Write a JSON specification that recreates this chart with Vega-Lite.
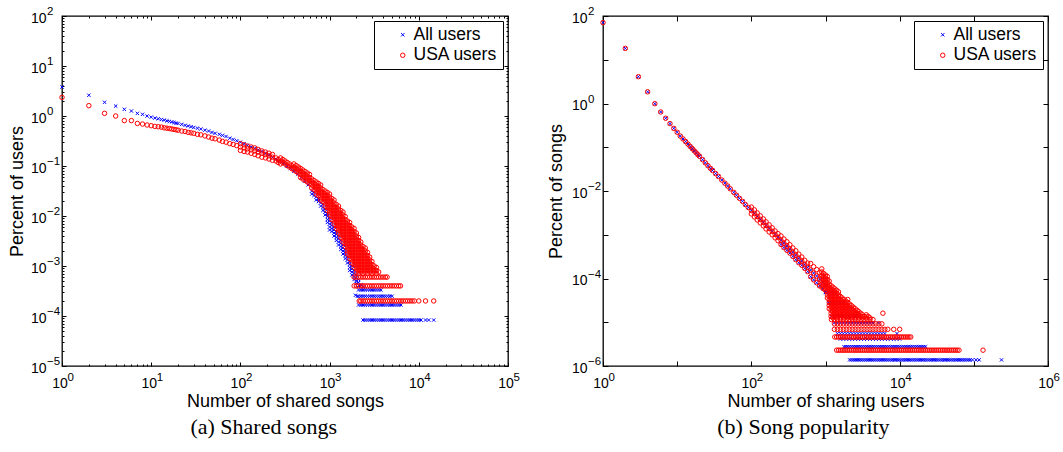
{
"$schema":"https://vega.github.io/schema/vega-lite/v6.json",
"background":"white",
"padding":{"left":7,"top":4,"right":0,"bottom":0},
"config":{
"view":{"stroke":"black","strokeWidth":1.3},
"font":"Liberation Sans",
"axis":{"grid":false,"domain":false,"labelFont":"Liberation Sans","labelFontSize":14,"labelColor":"#000","titleFont":"Liberation Sans","titleFontSize":18,"titleFontWeight":"normal","titleColor":"#000","tickColor":"#000","tickWidth":1,"labelOverlap":false,"labelFlush":false,"labelBound":false},
"legend":{"orient":"top-right","offset":5,"title":null,"strokeColor":"black","fillColor":"white","padding":5,"labelFont":"Liberation Sans","labelFontSize":17.5,"labelColor":"#000","symbolStrokeWidth":1,"rowPadding":1.5,"labelOffset":2,"symbolOffset":15,"cornerRadius":0}
},
"resolve":{"scale":{"color":"independent","shape":"independent","size":"independent"}},
"spacing":25,
"datasets":{
"L":[
{"s":"A","x":1,"y":3.8},{"s":"A","x":2,"y":2.6},{"s":"A","x":3,"y":1.88},{"s":"A","x":4,"y":1.58},{"s":"A","x":5,"y":1.36},{"s":"A","x":6,"y":1.26},{"s":"A","x":7,"y":1.13},{"s":"A","x":8,"y":1.08},{"s":"A","x":9,"y":1.0},{"s":"A","x":10,"y":0.95},{"s":"A","x":11,"y":0.91},{"s":"A","x":12,"y":0.88},{"s":"A","x":13,"y":0.85},{"s":"A","x":14,"y":0.83},{"s":"A","x":15,"y":0.8},{"s":"A","x":16,"y":0.78},{"s":"A","x":17,"y":0.76},{"s":"A","x":18,"y":0.74},{"s":"A","x":19,"y":0.72},{"s":"A","x":20,"y":0.71},{"s":"A","x":22,"y":0.68},{"s":"A","x":24,"y":0.65},{"s":"A","x":26,"y":0.63},{"s":"A","x":28,"y":0.61},
{"s":"A","x":30,"y":0.59},{"s":"A","x":33,"y":0.57},{"s":"A","x":36,"y":0.55},{"s":"A","x":40,"y":0.52},{"s":"A","x":44,"y":0.5},{"s":"A","x":48,"y":0.47},{"s":"A","x":52,"y":0.45},{"s":"A","x":58,"y":0.43},{"s":"A","x":63,"y":0.41},{"s":"A","x":69,"y":0.39},{"s":"A","x":76,"y":0.36},{"s":"A","x":83,"y":0.34},{"s":"A","x":91,"y":0.32},{"s":"A","x":100,"y":0.3},{"s":"A","x":110,"y":0.28},{"s":"A","x":120,"y":0.26},{"s":"A","x":132,"y":0.24},{"s":"A","x":145,"y":0.225},{"s":"A","x":158,"y":0.21},{"s":"A","x":174,"y":0.195},{"s":"A","x":191,"y":0.18},{"s":"A","x":209,"y":0.165},{"s":"A","x":229,"y":0.15},{"s":"A","x":251,"y":0.137},{"s":"A","x":275,"y":0.124},{"s":"A","x":302,"y":0.112},{"s":"A","x":331,"y":0.1},{"s":"A","x":363,"y":0.09},{"s":"A","x":398,"y":0.079},{"s":"A","x":437,"y":0.069},{"s":"A","x":479,"y":0.059},{"s":"A","x":525,"y":0.05},{"s":"A","x":575,"y":0.042},
{"s":"A","x":631,"y":0.0316},{"s":"A","x":631,"y":0.0275},{"s":"A","x":668,"y":0.0295},{"s":"A","x":668,"y":0.0257},{"s":"A","x":708,"y":0.024},{"s":"A","x":708,"y":0.0209},{"s":"A","x":750,"y":0.0224},{"s":"A","x":750,"y":0.0195},{"s":"A","x":794,"y":0.0182},{"s":"A","x":794,"y":0.0158},{"s":"A","x":841,"y":0.017},{"s":"A","x":841,"y":0.0148},{"s":"A","x":841,"y":0.0129},{"s":"A","x":891,"y":0.0138},{"s":"A","x":891,"y":0.012},{"s":"A","x":891,"y":0.0105},{"s":"A","x":944,"y":0.0112},{"s":"A","x":944,"y":0.00977},{"s":"A","x":944,"y":0.00851},{"s":"A","x":944,"y":0.00741},{"s":"A","x":1000,"y":0.00912},{"s":"A","x":1000,"y":0.00794},{"s":"A","x":1000,"y":0.00692},{"s":"A","x":1000,"y":0.00603},{"s":"A","x":1000,"y":0.00525},{"s":"A","x":1059,"y":0.00741},{"s":"A","x":1059,"y":0.00646},{"s":"A","x":1059,"y":0.00562},{"s":"A","x":1059,"y":0.0049},{"s":"A","x":1122,"y":0.00603},{"s":"A","x":1122,"y":0.00525},{"s":"A","x":1122,"y":0.00457},{"s":"A","x":1122,"y":0.00398},{"s":"A","x":1189,"y":0.0049},{"s":"A","x":1189,"y":0.00427},{"s":"A","x":1189,"y":0.00372},{"s":"A","x":1189,"y":0.00324},{"s":"A","x":1259,"y":0.00398},{"s":"A","x":1259,"y":0.00347},{"s":"A","x":1259,"y":0.00302},{"s":"A","x":1259,"y":0.00263},{"s":"A","x":1334,"y":0.00324},{"s":"A","x":1334,"y":0.00282},{"s":"A","x":1334,"y":0.00245},{"s":"A","x":1334,"y":0.00214},{"s":"A","x":1413,"y":0.00263},{"s":"A","x":1413,"y":0.00229},{"s":"A","x":1413,"y":0.002},{"s":"A","x":1413,"y":0.00174},{"s":"A","x":1496,"y":0.00214},{"s":"A","x":1496,"y":0.00186},{"s":"A","x":1496,"y":0.00162},{"s":"A","x":1496,"y":0.00141},{"s":"A","x":1585,"y":0.00151},{"s":"A","x":1585,"y":0.00132},{"s":"A","x":1585,"y":0.00115},{"s":"A","x":1679,"y":0.00123},{"s":"A","x":1679,"y":0.00107},{"s":"A","x":1679,"y":0.000933},{"s":"A","x":1679,"y":0.000813},{"s":"A","x":1778,"y":0.001},{"s":"A","x":1778,"y":0.000871},{"s":"A","x":1778,"y":0.000759},{"s":"A","x":1778,"y":0.000661},{"s":"A","x":1884,"y":0.000813},{"s":"A","x":1884,"y":0.000708},{"s":"A","x":1884,"y":0.000617},{"s":"A","x":1884,"y":0.000537},{"s":"A","x":1995,"y":0.000661},{"s":"A","x":1995,"y":0.000575},{"s":"A","x":1995,"y":0.000501},{"s":"A","x":2113,"y":0.000537},{"s":"A","x":2113,"y":0.000468},{"s":"A","x":2113,"y":0.000407},
{"s":"A","x":1950,"y":0.00026},{"s":"A","x":2000,"y":0.00045},{"s":"A","x":2150,"y":0.0004},{"s":"A","x":2250,"y":0.00042},{"s":"A","x":2400,"y":0.00038},
{"s":"A","x":2113,"y":0.000332},{"s":"A","x":2239,"y":0.000332},{"s":"A","x":2371,"y":0.000332},{"s":"A","x":2512,"y":0.000332},{"s":"A","x":2661,"y":0.000332},{"s":"A","x":2818,"y":0.000332},{"s":"A","x":2985,"y":0.000332},{"s":"A","x":3162,"y":0.000332},{"s":"A","x":3350,"y":0.000332},{"s":"A","x":3548,"y":0.000332},{"s":"A","x":3758,"y":0.000332},
{"s":"A","x":2050,"y":0.000249},{"s":"A","x":2113,"y":0.000249},{"s":"A","x":2239,"y":0.000249},{"s":"A","x":2371,"y":0.000249},{"s":"A","x":2512,"y":0.000249},{"s":"A","x":2661,"y":0.000249},{"s":"A","x":2818,"y":0.000249},{"s":"A","x":2985,"y":0.000249},{"s":"A","x":3162,"y":0.000249},{"s":"A","x":3350,"y":0.000249},{"s":"A","x":3548,"y":0.000249},{"s":"A","x":3758,"y":0.000249},{"s":"A","x":3981,"y":0.000249},{"s":"A","x":4217,"y":0.000249},{"s":"A","x":4467,"y":0.000249},{"s":"A","x":4732,"y":0.000249},{"s":"A","x":5012,"y":0.000249},
{"s":"A","x":2113,"y":0.000166},{"s":"A","x":2239,"y":0.000166},{"s":"A","x":2371,"y":0.000166},{"s":"A","x":2512,"y":0.000166},{"s":"A","x":2661,"y":0.000166},{"s":"A","x":2818,"y":0.000166},{"s":"A","x":2985,"y":0.000166},{"s":"A","x":3162,"y":0.000166},{"s":"A","x":3350,"y":0.000166},{"s":"A","x":3548,"y":0.000166},{"s":"A","x":3758,"y":0.000166},{"s":"A","x":3981,"y":0.000166},{"s":"A","x":4217,"y":0.000166},{"s":"A","x":4467,"y":0.000166},{"s":"A","x":4732,"y":0.000166},{"s":"A","x":5012,"y":0.000166},{"s":"A","x":5309,"y":0.000166},{"s":"A","x":5623,"y":0.000166},{"s":"A","x":5957,"y":0.000166},{"s":"A","x":6310,"y":0.000166},
{"s":"A","x":2371,"y":0.000083},{"s":"A","x":2512,"y":0.000083},{"s":"A","x":2661,"y":0.000083},{"s":"A","x":2818,"y":0.000083},{"s":"A","x":2985,"y":0.000083},{"s":"A","x":3162,"y":0.000083},{"s":"A","x":3350,"y":0.000083},{"s":"A","x":3548,"y":0.000083},{"s":"A","x":3758,"y":0.000083},{"s":"A","x":3981,"y":0.000083},{"s":"A","x":4217,"y":0.000083},{"s":"A","x":4467,"y":0.000083},{"s":"A","x":4732,"y":0.000083},{"s":"A","x":5012,"y":0.000083},{"s":"A","x":5309,"y":0.000083},{"s":"A","x":5623,"y":0.000083},{"s":"A","x":5957,"y":0.000083},{"s":"A","x":6310,"y":0.000083},{"s":"A","x":6683,"y":0.000083},{"s":"A","x":7079,"y":0.000083},{"s":"A","x":7499,"y":0.000083},{"s":"A","x":7943,"y":0.000083},{"s":"A","x":8414,"y":0.000083},{"s":"A","x":8913,"y":0.000083},{"s":"A","x":9441,"y":0.000083},{"s":"A","x":10000,"y":0.000083},{"s":"A","x":10593,"y":0.000083},{"s":"A","x":11900,"y":0.000083},{"s":"A","x":12900,"y":0.000083},{"s":"A","x":14700,"y":0.000083},
{"s":"U","x":1,"y":2.36},{"s":"U","x":2,"y":1.61},{"s":"U","x":3,"y":1.13},{"s":"U","x":4,"y":1.0},{"s":"U","x":5,"y":0.81},{"s":"U","x":6,"y":0.81},{"s":"U","x":7,"y":0.71},{"s":"U","x":8,"y":0.69},{"s":"U","x":9,"y":0.66},{"s":"U","x":10,"y":0.64},{"s":"U","x":11,"y":0.62},{"s":"U","x":12,"y":0.61},{"s":"U","x":13,"y":0.6},{"s":"U","x":14,"y":0.58},{"s":"U","x":15,"y":0.57},{"s":"U","x":16,"y":0.56},{"s":"U","x":17,"y":0.55},{"s":"U","x":18,"y":0.54},{"s":"U","x":19,"y":0.53},{"s":"U","x":20,"y":0.52},{"s":"U","x":22,"y":0.5},{"s":"U","x":24,"y":0.49},{"s":"U","x":26,"y":0.47},{"s":"U","x":28,"y":0.46},
{"s":"U","x":30,"y":0.45},{"s":"U","x":33,"y":0.43},{"s":"U","x":36,"y":0.42},{"s":"U","x":40,"y":0.4},{"s":"U","x":44,"y":0.38},{"s":"U","x":48,"y":0.36},{"s":"U","x":52,"y":0.35},{"s":"U","x":58,"y":0.33},{"s":"U","x":63,"y":0.31},{"s":"U","x":69,"y":0.3},{"s":"U","x":76,"y":0.28},{"s":"U","x":83,"y":0.27},{"s":"U","x":91,"y":0.255},{"s":"U","x":100,"y":0.24},{"s":"U","x":110,"y":0.23},{"s":"U","x":120,"y":0.22},{"s":"U","x":132,"y":0.21},{"s":"U","x":145,"y":0.2},{"s":"U","x":158,"y":0.19},{"s":"U","x":174,"y":0.18},{"s":"U","x":191,"y":0.17},{"s":"U","x":209,"y":0.16},{"s":"U","x":229,"y":0.15},
{"s":"U","x":100,"y":0.28},{"s":"U","x":110,"y":0.265},{"s":"U","x":120,"y":0.25},{"s":"U","x":132,"y":0.24},{"s":"U","x":145,"y":0.23},{"s":"U","x":158,"y":0.215},{"s":"U","x":174,"y":0.2},{"s":"U","x":191,"y":0.19},{"s":"U","x":209,"y":0.18},{"s":"U","x":229,"y":0.17},
{"s":"U","x":100,"y":0.205},{"s":"U","x":110,"y":0.195},{"s":"U","x":120,"y":0.19},{"s":"U","x":132,"y":0.18},{"s":"U","x":145,"y":0.17},{"s":"U","x":158,"y":0.16},{"s":"U","x":174,"y":0.15},{"s":"U","x":191,"y":0.145},{"s":"U","x":209,"y":0.138},{"s":"U","x":229,"y":0.13},
{"s":"U","x":251,"y":0.145},{"s":"U","x":251,"y":0.126},{"s":"U","x":266,"y":0.135},{"s":"U","x":266,"y":0.1175},{"s":"U","x":282,"y":0.145},{"s":"U","x":282,"y":0.126},{"s":"U","x":282,"y":0.11},{"s":"U","x":299,"y":0.135},{"s":"U","x":299,"y":0.1175},{"s":"U","x":316,"y":0.126},{"s":"U","x":316,"y":0.11},{"s":"U","x":335,"y":0.1175},{"s":"U","x":335,"y":0.102},{"s":"U","x":355,"y":0.11},{"s":"U","x":355,"y":0.0955},{"s":"U","x":376,"y":0.102},{"s":"U","x":376,"y":0.0891},{"s":"U","x":398,"y":0.11},{"s":"U","x":398,"y":0.0955},{"s":"U","x":398,"y":0.0832},{"s":"U","x":422,"y":0.102},{"s":"U","x":422,"y":0.0891},{"s":"U","x":422,"y":0.0776},{"s":"U","x":447,"y":0.0955},{"s":"U","x":447,"y":0.0832},{"s":"U","x":447,"y":0.0724},{"s":"U","x":473,"y":0.0891},{"s":"U","x":473,"y":0.0776},{"s":"U","x":473,"y":0.0676},{"s":"U","x":473,"y":0.0589},{"s":"U","x":501,"y":0.0832},{"s":"U","x":501,"y":0.0724},{"s":"U","x":501,"y":0.0631},{"s":"U","x":501,"y":0.055},{"s":"U","x":531,"y":0.0776},{"s":"U","x":531,"y":0.0676},{"s":"U","x":531,"y":0.0589},{"s":"U","x":531,"y":0.0513},{"s":"U","x":562,"y":0.0724},{"s":"U","x":562,"y":0.0631},{"s":"U","x":562,"y":0.055},{"s":"U","x":562,"y":0.0479},{"s":"U","x":596,"y":0.0676},{"s":"U","x":596,"y":0.0589},{"s":"U","x":596,"y":0.0513},{"s":"U","x":596,"y":0.0447},
{"s":"U","x":631,"y":0.055},{"s":"U","x":631,"y":0.0479},{"s":"U","x":631,"y":0.0417},{"s":"U","x":631,"y":0.0363},{"s":"U","x":668,"y":0.0513},{"s":"U","x":668,"y":0.0447},{"s":"U","x":668,"y":0.0389},{"s":"U","x":668,"y":0.0339},{"s":"U","x":708,"y":0.0479},{"s":"U","x":708,"y":0.0417},{"s":"U","x":708,"y":0.0363},{"s":"U","x":708,"y":0.0316},{"s":"U","x":708,"y":0.0275},{"s":"U","x":750,"y":0.0447},{"s":"U","x":750,"y":0.0389},{"s":"U","x":750,"y":0.0339},{"s":"U","x":750,"y":0.0295},{"s":"U","x":750,"y":0.0257},{"s":"U","x":794,"y":0.0417},{"s":"U","x":794,"y":0.0363},{"s":"U","x":794,"y":0.0316},{"s":"U","x":794,"y":0.0275},{"s":"U","x":794,"y":0.024},{"s":"U","x":794,"y":0.0209},{"s":"U","x":841,"y":0.0339},{"s":"U","x":841,"y":0.0295},{"s":"U","x":841,"y":0.0257},{"s":"U","x":841,"y":0.0224},{"s":"U","x":841,"y":0.0195},{"s":"U","x":891,"y":0.0316},{"s":"U","x":891,"y":0.0275},{"s":"U","x":891,"y":0.024},{"s":"U","x":891,"y":0.0209},{"s":"U","x":891,"y":0.0182},{"s":"U","x":891,"y":0.0158},{"s":"U","x":944,"y":0.0295},{"s":"U","x":944,"y":0.0257},{"s":"U","x":944,"y":0.0224},{"s":"U","x":944,"y":0.0195},{"s":"U","x":944,"y":0.017},{"s":"U","x":944,"y":0.0148},{"s":"U","x":944,"y":0.0129},
{"s":"U","x":1000,"y":0.0275},{"s":"U","x":1000,"y":0.024},{"s":"U","x":1000,"y":0.0209},{"s":"U","x":1000,"y":0.0182},{"s":"U","x":1000,"y":0.0158},{"s":"U","x":1000,"y":0.0138},{"s":"U","x":1000,"y":0.012},{"s":"U","x":1000,"y":0.0105},{"s":"U","x":1059,"y":0.0224},{"s":"U","x":1059,"y":0.0195},{"s":"U","x":1059,"y":0.017},{"s":"U","x":1059,"y":0.0148},{"s":"U","x":1059,"y":0.0129},{"s":"U","x":1059,"y":0.0112},{"s":"U","x":1059,"y":0.00977},{"s":"U","x":1059,"y":0.00851},{"s":"U","x":1122,"y":0.0209},{"s":"U","x":1122,"y":0.0182},{"s":"U","x":1122,"y":0.0158},{"s":"U","x":1122,"y":0.0138},{"s":"U","x":1122,"y":0.012},{"s":"U","x":1122,"y":0.0105},{"s":"U","x":1122,"y":0.00912},{"s":"U","x":1122,"y":0.00794},{"s":"U","x":1122,"y":0.00692},{"s":"U","x":1189,"y":0.017},{"s":"U","x":1189,"y":0.0148},{"s":"U","x":1189,"y":0.0129},{"s":"U","x":1189,"y":0.0112},{"s":"U","x":1189,"y":0.00977},{"s":"U","x":1189,"y":0.00851},{"s":"U","x":1189,"y":0.00741},{"s":"U","x":1189,"y":0.00646},{"s":"U","x":1189,"y":0.00562},
{"s":"U","x":1259,"y":0.0158},{"s":"U","x":1259,"y":0.0138},{"s":"U","x":1259,"y":0.012},{"s":"U","x":1259,"y":0.0105},{"s":"U","x":1259,"y":0.00912},{"s":"U","x":1259,"y":0.00794},{"s":"U","x":1259,"y":0.00692},{"s":"U","x":1259,"y":0.00603},{"s":"U","x":1259,"y":0.00525},{"s":"U","x":1259,"y":0.00457},{"s":"U","x":1334,"y":0.0129},{"s":"U","x":1334,"y":0.0112},{"s":"U","x":1334,"y":0.00977},{"s":"U","x":1334,"y":0.00851},{"s":"U","x":1334,"y":0.00741},{"s":"U","x":1334,"y":0.00646},{"s":"U","x":1334,"y":0.00562},{"s":"U","x":1334,"y":0.0049},{"s":"U","x":1334,"y":0.00427},{"s":"U","x":1334,"y":0.00372},
{"s":"U","x":1413,"y":0.012},{"s":"U","x":1413,"y":0.0105},{"s":"U","x":1413,"y":0.00912},{"s":"U","x":1413,"y":0.00794},{"s":"U","x":1413,"y":0.00692},{"s":"U","x":1413,"y":0.00603},{"s":"U","x":1413,"y":0.00525},{"s":"U","x":1413,"y":0.00457},{"s":"U","x":1413,"y":0.00398},{"s":"U","x":1413,"y":0.00347},{"s":"U","x":1413,"y":0.00302},{"s":"U","x":1496,"y":0.00977},{"s":"U","x":1496,"y":0.00851},{"s":"U","x":1496,"y":0.00741},{"s":"U","x":1496,"y":0.00646},{"s":"U","x":1496,"y":0.00562},{"s":"U","x":1496,"y":0.0049},{"s":"U","x":1496,"y":0.00427},{"s":"U","x":1496,"y":0.00372},{"s":"U","x":1496,"y":0.00324},{"s":"U","x":1496,"y":0.00282},{"s":"U","x":1496,"y":0.00245},
{"s":"U","x":1585,"y":0.00794},{"s":"U","x":1585,"y":0.00692},{"s":"U","x":1585,"y":0.00603},{"s":"U","x":1585,"y":0.00525},{"s":"U","x":1585,"y":0.00457},{"s":"U","x":1585,"y":0.00398},{"s":"U","x":1585,"y":0.00347},{"s":"U","x":1585,"y":0.00302},{"s":"U","x":1585,"y":0.00263},{"s":"U","x":1585,"y":0.00229},{"s":"U","x":1585,"y":0.002},{"s":"U","x":1585,"y":0.00174},
{"s":"U","x":1679,"y":0.00741},{"s":"U","x":1679,"y":0.00646},{"s":"U","x":1679,"y":0.00562},{"s":"U","x":1679,"y":0.0049},{"s":"U","x":1679,"y":0.00427},{"s":"U","x":1679,"y":0.00372},{"s":"U","x":1679,"y":0.00324},{"s":"U","x":1679,"y":0.00282},{"s":"U","x":1679,"y":0.00245},{"s":"U","x":1679,"y":0.00214},{"s":"U","x":1679,"y":0.00186},{"s":"U","x":1679,"y":0.00162},{"s":"U","x":1679,"y":0.00141},
{"s":"U","x":1778,"y":0.00603},{"s":"U","x":1778,"y":0.00525},{"s":"U","x":1778,"y":0.00457},{"s":"U","x":1778,"y":0.00398},{"s":"U","x":1778,"y":0.00347},{"s":"U","x":1778,"y":0.00302},{"s":"U","x":1778,"y":0.00263},{"s":"U","x":1778,"y":0.00229},{"s":"U","x":1778,"y":0.002},{"s":"U","x":1778,"y":0.00174},{"s":"U","x":1778,"y":0.00151},{"s":"U","x":1778,"y":0.00132},{"s":"U","x":1778,"y":0.00115},
{"s":"U","x":1884,"y":0.00562},{"s":"U","x":1884,"y":0.0049},{"s":"U","x":1884,"y":0.00427},{"s":"U","x":1884,"y":0.00372},{"s":"U","x":1884,"y":0.00324},{"s":"U","x":1884,"y":0.00282},{"s":"U","x":1884,"y":0.00245},{"s":"U","x":1884,"y":0.00214},{"s":"U","x":1884,"y":0.00186},{"s":"U","x":1884,"y":0.00162},{"s":"U","x":1884,"y":0.00141},{"s":"U","x":1884,"y":0.00123},{"s":"U","x":1884,"y":0.00107},{"s":"U","x":1884,"y":0.000933},
{"s":"U","x":1995,"y":0.00457},{"s":"U","x":1995,"y":0.00398},{"s":"U","x":1995,"y":0.00347},{"s":"U","x":1995,"y":0.00302},{"s":"U","x":1995,"y":0.00263},{"s":"U","x":1995,"y":0.00229},{"s":"U","x":1995,"y":0.002},{"s":"U","x":1995,"y":0.00174},{"s":"U","x":1995,"y":0.00151},{"s":"U","x":1995,"y":0.00132},{"s":"U","x":1995,"y":0.00115},{"s":"U","x":1995,"y":0.001},{"s":"U","x":1995,"y":0.000871},{"s":"U","x":1995,"y":0.000759},
{"s":"U","x":2113,"y":0.00372},{"s":"U","x":2113,"y":0.00324},{"s":"U","x":2113,"y":0.00282},{"s":"U","x":2113,"y":0.00245},{"s":"U","x":2113,"y":0.00214},{"s":"U","x":2113,"y":0.00186},{"s":"U","x":2113,"y":0.00162},{"s":"U","x":2113,"y":0.00141},{"s":"U","x":2113,"y":0.00123},{"s":"U","x":2113,"y":0.00107},{"s":"U","x":2113,"y":0.000933},{"s":"U","x":2113,"y":0.000813},{"s":"U","x":2113,"y":0.000708},
{"s":"U","x":2239,"y":0.00302},{"s":"U","x":2239,"y":0.00263},{"s":"U","x":2239,"y":0.00229},{"s":"U","x":2239,"y":0.002},{"s":"U","x":2239,"y":0.00174},{"s":"U","x":2239,"y":0.00151},{"s":"U","x":2239,"y":0.00132},{"s":"U","x":2239,"y":0.00115},{"s":"U","x":2239,"y":0.001},{"s":"U","x":2239,"y":0.000871},{"s":"U","x":2239,"y":0.000759},
{"s":"U","x":2371,"y":0.00245},{"s":"U","x":2371,"y":0.00214},{"s":"U","x":2371,"y":0.00186},{"s":"U","x":2371,"y":0.00162},{"s":"U","x":2371,"y":0.00141},{"s":"U","x":2371,"y":0.00123},{"s":"U","x":2371,"y":0.00107},{"s":"U","x":2371,"y":0.000933},{"s":"U","x":2371,"y":0.000813},{"s":"U","x":2371,"y":0.000708},
{"s":"U","x":2512,"y":0.00229},{"s":"U","x":2512,"y":0.002},{"s":"U","x":2512,"y":0.00174},{"s":"U","x":2512,"y":0.00151},{"s":"U","x":2512,"y":0.00132},{"s":"U","x":2512,"y":0.00115},{"s":"U","x":2512,"y":0.001},{"s":"U","x":2512,"y":0.000871},{"s":"U","x":2512,"y":0.000759},
{"s":"U","x":2661,"y":0.00186},{"s":"U","x":2661,"y":0.00162},{"s":"U","x":2661,"y":0.00141},{"s":"U","x":2661,"y":0.00123},{"s":"U","x":2661,"y":0.00107},{"s":"U","x":2661,"y":0.000933},{"s":"U","x":2661,"y":0.000813},{"s":"U","x":2661,"y":0.000708},
{"s":"U","x":2818,"y":0.00151},{"s":"U","x":2818,"y":0.00132},{"s":"U","x":2818,"y":0.00115},{"s":"U","x":2818,"y":0.001},{"s":"U","x":2818,"y":0.000871},{"s":"U","x":2818,"y":0.000759},
{"s":"U","x":2985,"y":0.00123},{"s":"U","x":2985,"y":0.00107},{"s":"U","x":2985,"y":0.000933},{"s":"U","x":2985,"y":0.000813},{"s":"U","x":2985,"y":0.000708},
{"s":"U","x":3162,"y":0.001},{"s":"U","x":3162,"y":0.000871},{"s":"U","x":3162,"y":0.000759},{"s":"U","x":3350,"y":0.000933},{"s":"U","x":3350,"y":0.000813},{"s":"U","x":3350,"y":0.000708},{"s":"U","x":3548,"y":0.000759},
{"s":"U","x":1884,"y":0.0006},{"s":"U","x":1995,"y":0.0006},{"s":"U","x":2113,"y":0.0006},{"s":"U","x":2239,"y":0.0006},{"s":"U","x":2371,"y":0.0006},{"s":"U","x":2512,"y":0.0006},{"s":"U","x":2661,"y":0.0006},{"s":"U","x":2818,"y":0.0006},{"s":"U","x":2985,"y":0.0006},{"s":"U","x":3162,"y":0.0006},{"s":"U","x":3350,"y":0.0006},{"s":"U","x":3548,"y":0.0006},{"s":"U","x":3758,"y":0.0006},{"s":"U","x":3981,"y":0.0006},{"s":"U","x":4217,"y":0.0006},{"s":"U","x":4410,"y":0.0006},
{"s":"U","x":1884,"y":0.0004},{"s":"U","x":1995,"y":0.0004},{"s":"U","x":2113,"y":0.0004},{"s":"U","x":2239,"y":0.0004},{"s":"U","x":2371,"y":0.0004},{"s":"U","x":2512,"y":0.0004},{"s":"U","x":2661,"y":0.0004},{"s":"U","x":2818,"y":0.0004},{"s":"U","x":2985,"y":0.0004},{"s":"U","x":3162,"y":0.0004},{"s":"U","x":3350,"y":0.0004},{"s":"U","x":3548,"y":0.0004},{"s":"U","x":3758,"y":0.0004},{"s":"U","x":3981,"y":0.0004},{"s":"U","x":4217,"y":0.0004},{"s":"U","x":4467,"y":0.0004},{"s":"U","x":4732,"y":0.0004},{"s":"U","x":5012,"y":0.0004},{"s":"U","x":5309,"y":0.0004},{"s":"U","x":5623,"y":0.0004},{"s":"U","x":5957,"y":0.0004},{"s":"U","x":6240,"y":0.0004},
{"s":"U","x":2150,"y":0.0002},{"s":"U","x":2239,"y":0.0002},{"s":"U","x":2371,"y":0.0002},{"s":"U","x":2512,"y":0.0002},{"s":"U","x":2661,"y":0.0002},{"s":"U","x":2818,"y":0.0002},{"s":"U","x":2985,"y":0.0002},{"s":"U","x":3162,"y":0.0002},{"s":"U","x":3350,"y":0.0002},{"s":"U","x":3548,"y":0.0002},{"s":"U","x":3758,"y":0.0002},{"s":"U","x":3981,"y":0.0002},{"s":"U","x":4217,"y":0.0002},{"s":"U","x":4467,"y":0.0002},{"s":"U","x":4732,"y":0.0002},{"s":"U","x":5012,"y":0.0002},{"s":"U","x":5309,"y":0.0002},{"s":"U","x":5623,"y":0.0002},{"s":"U","x":5957,"y":0.0002},{"s":"U","x":6310,"y":0.0002},{"s":"U","x":6683,"y":0.0002},{"s":"U","x":7079,"y":0.0002},{"s":"U","x":7499,"y":0.0002},{"s":"U","x":7943,"y":0.0002},{"s":"U","x":8414,"y":0.0002},{"s":"U","x":8913,"y":0.0002},{"s":"U","x":10000,"y":0.0002},{"s":"U","x":11900,"y":0.0002},{"s":"U","x":14700,"y":0.0002}
],
"R":[
{"s":"A","x":1,"y":70.6},{"s":"A","x":2,"y":18.2},{"s":"A","x":3,"y":4.1},{"s":"A","x":4,"y":1.85},{"s":"A","x":5,"y":0.99},{"s":"A","x":6,"y":0.64},{"s":"A","x":7,"y":0.46},{"s":"A","x":8,"y":0.347},{"s":"A","x":9,"y":0.27},{"s":"A","x":10,"y":0.22},{"s":"A","x":11,"y":0.18},{"s":"A","x":12,"y":0.155},{"s":"A","x":13,"y":0.135},{"s":"A","x":14,"y":0.118},{"s":"A","x":15,"y":0.104},{"s":"A","x":16,"y":0.093},{"s":"A","x":17,"y":0.083},{"s":"A","x":18,"y":0.075},{"s":"A","x":19,"y":0.068},{"s":"A","x":20,"y":0.062},{"s":"A","x":22,"y":0.052},{"s":"A","x":24,"y":0.044},{"s":"A","x":26,"y":0.038},{"s":"A","x":28,"y":0.033},
{"s":"A","x":30,"y":0.0295},{"s":"A","x":33,"y":0.025},{"s":"A","x":36,"y":0.0215},{"s":"A","x":40,"y":0.0178},{"s":"A","x":44,"y":0.0151},{"s":"A","x":48,"y":0.013},{"s":"A","x":52,"y":0.0112},{"s":"A","x":58,"y":0.0093},{"s":"A","x":63,"y":0.008},{"s":"A","x":69,"y":0.0068},{"s":"A","x":76,"y":0.0058},{"s":"A","x":83,"y":0.0049},{"s":"A","x":91,"y":0.0042},{"s":"A","x":100,"y":0.0036},{"s":"A","x":110,"y":0.00308},{"s":"A","x":120,"y":0.00263},{"s":"A","x":132,"y":0.00225},{"s":"A","x":145,"y":0.00192},{"s":"A","x":158,"y":0.00164},{"s":"A","x":174,"y":0.0014},{"s":"A","x":191,"y":0.0012},{"s":"A","x":209,"y":0.00102},{"s":"A","x":229,"y":0.00088},{"s":"A","x":251,"y":0.00075},{"s":"A","x":275,"y":0.00064},{"s":"A","x":302,"y":0.00055},{"s":"A","x":331,"y":0.00047},{"s":"A","x":363,"y":0.0004},{"s":"A","x":398,"y":0.00034},{"s":"A","x":437,"y":0.00029},{"s":"A","x":479,"y":0.00025},{"s":"A","x":525,"y":0.00021},{"s":"A","x":575,"y":0.00018},{"s":"A","x":631,"y":0.000156},{"s":"A","x":692,"y":0.000133},{"s":"A","x":759,"y":0.000114},{"s":"A","x":832,"y":0.000097},{"s":"A","x":912,"y":0.000083},{"s":"A","x":1000,"y":0.000071},
{"s":"A","x":251,"y":0.0006},{"s":"A","x":275,"y":0.00051},{"s":"A","x":302,"y":0.00044},{"s":"A","x":331,"y":0.00038},{"s":"A","x":363,"y":0.00032},{"s":"A","x":398,"y":0.00027},{"s":"A","x":437,"y":0.00023},{"s":"A","x":479,"y":0.0002},{"s":"A","x":525,"y":0.00017},{"s":"A","x":575,"y":0.000144},{"s":"A","x":631,"y":0.00011},{"s":"A","x":692,"y":0.000093},{"s":"A","x":759,"y":0.00008},{"s":"A","x":832,"y":0.000068},{"s":"A","x":912,"y":0.000058},{"s":"A","x":1000,"y":0.00005},
{"s":"A","x":1000,"y":4.8e-5},{"s":"A","x":1096,"y":4.8e-5},{"s":"A","x":1202,"y":4.8e-5},{"s":"A","x":1318,"y":4.8e-5},
{"s":"A","x":1096,"y":2.76e-5},{"s":"A","x":1202,"y":2.76e-5},{"s":"A","x":1318,"y":2.76e-5},{"s":"A","x":1445,"y":2.76e-5},{"s":"A","x":1585,"y":2.76e-5},{"s":"A","x":1738,"y":2.76e-5},
{"s":"A","x":1202,"y":1.38e-5},{"s":"A","x":1318,"y":1.38e-5},{"s":"A","x":1445,"y":1.38e-5},{"s":"A","x":1585,"y":1.38e-5},{"s":"A","x":1738,"y":1.38e-5},{"s":"A","x":1905,"y":1.38e-5},{"s":"A","x":2089,"y":1.38e-5},{"s":"A","x":2291,"y":1.38e-5},{"s":"A","x":2512,"y":1.38e-5},{"s":"A","x":2754,"y":1.38e-5},
{"s":"A","x":1318,"y":9.66e-6},{"s":"A","x":1445,"y":9.66e-6},{"s":"A","x":1585,"y":9.66e-6},{"s":"A","x":1738,"y":9.66e-6},{"s":"A","x":1905,"y":9.66e-6},{"s":"A","x":2089,"y":9.66e-6},{"s":"A","x":2291,"y":9.66e-6},{"s":"A","x":2512,"y":9.66e-6},{"s":"A","x":2754,"y":9.66e-6},{"s":"A","x":3020,"y":9.66e-6},{"s":"A","x":3311,"y":9.66e-6},{"s":"A","x":3631,"y":9.66e-6},{"s":"A","x":3981,"y":9.66e-6},{"s":"A","x":4365,"y":9.66e-6},{"s":"A","x":5200,"y":9.66e-6},
{"s":"A","x":1445,"y":5.52e-6},{"s":"A","x":1585,"y":5.52e-6},{"s":"A","x":1738,"y":5.52e-6},{"s":"A","x":1905,"y":5.52e-6},{"s":"A","x":2089,"y":5.52e-6},{"s":"A","x":2291,"y":5.52e-6},{"s":"A","x":2512,"y":5.52e-6},{"s":"A","x":2754,"y":5.52e-6},{"s":"A","x":3020,"y":5.52e-6},{"s":"A","x":3311,"y":5.52e-6},{"s":"A","x":3631,"y":5.52e-6},{"s":"A","x":3981,"y":5.52e-6},{"s":"A","x":4365,"y":5.52e-6},{"s":"A","x":4786,"y":5.52e-6},{"s":"A","x":5248,"y":5.52e-6},{"s":"A","x":5754,"y":5.52e-6},{"s":"A","x":6310,"y":5.52e-6},{"s":"A","x":9200,"y":5.52e-6},
{"s":"A","x":1585,"y":4.14e-6},{"s":"A","x":1738,"y":4.14e-6},{"s":"A","x":1905,"y":4.14e-6},{"s":"A","x":2089,"y":4.14e-6},{"s":"A","x":2291,"y":4.14e-6},{"s":"A","x":2512,"y":4.14e-6},{"s":"A","x":2754,"y":4.14e-6},{"s":"A","x":3020,"y":4.14e-6},{"s":"A","x":3311,"y":4.14e-6},{"s":"A","x":3631,"y":4.14e-6},{"s":"A","x":3981,"y":4.14e-6},{"s":"A","x":4365,"y":4.14e-6},{"s":"A","x":4786,"y":4.14e-6},{"s":"A","x":5248,"y":4.14e-6},{"s":"A","x":5754,"y":4.14e-6},{"s":"A","x":6310,"y":4.14e-6},{"s":"A","x":6918,"y":4.14e-6},{"s":"A","x":7586,"y":4.14e-6},{"s":"A","x":8318,"y":4.14e-6},{"s":"A","x":9120,"y":4.14e-6},{"s":"A","x":10000,"y":4.14e-6},
{"s":"A","x":1778,"y":2.76e-6},{"s":"A","x":1884,"y":2.76e-6},{"s":"A","x":1995,"y":2.76e-6},{"s":"A","x":2113,"y":2.76e-6},{"s":"A","x":2239,"y":2.76e-6},{"s":"A","x":2371,"y":2.76e-6},{"s":"A","x":2512,"y":2.76e-6},{"s":"A","x":2661,"y":2.76e-6},{"s":"A","x":2818,"y":2.76e-6},{"s":"A","x":2985,"y":2.76e-6},{"s":"A","x":3162,"y":2.76e-6},{"s":"A","x":3350,"y":2.76e-6},{"s":"A","x":3548,"y":2.76e-6},{"s":"A","x":3758,"y":2.76e-6},{"s":"A","x":3981,"y":2.76e-6},{"s":"A","x":4217,"y":2.76e-6},{"s":"A","x":4467,"y":2.76e-6},{"s":"A","x":4732,"y":2.76e-6},{"s":"A","x":5012,"y":2.76e-6},{"s":"A","x":5309,"y":2.76e-6},{"s":"A","x":5623,"y":2.76e-6},{"s":"A","x":5957,"y":2.76e-6},{"s":"A","x":6310,"y":2.76e-6},{"s":"A","x":6683,"y":2.76e-6},{"s":"A","x":7079,"y":2.76e-6},{"s":"A","x":7499,"y":2.76e-6},{"s":"A","x":7943,"y":2.76e-6},{"s":"A","x":8414,"y":2.76e-6},{"s":"A","x":8913,"y":2.76e-6},{"s":"A","x":9441,"y":2.76e-6},{"s":"A","x":10000,"y":2.76e-6},{"s":"A","x":10593,"y":2.76e-6},{"s":"A","x":11220,"y":2.76e-6},{"s":"A","x":11885,"y":2.76e-6},{"s":"A","x":12589,"y":2.76e-6},{"s":"A","x":13335,"y":2.76e-6},{"s":"A","x":14125,"y":2.76e-6},{"s":"A","x":14962,"y":2.76e-6},{"s":"A","x":15849,"y":2.76e-6},{"s":"A","x":16788,"y":2.76e-6},{"s":"A","x":17783,"y":2.76e-6},{"s":"A","x":18836,"y":2.76e-6},{"s":"A","x":19953,"y":2.76e-6},{"s":"A","x":21135,"y":2.76e-6},{"s":"A","x":22387,"y":2.76e-6},
{"s":"A","x":2113,"y":1.38e-6},{"s":"A","x":2239,"y":1.38e-6},{"s":"A","x":2371,"y":1.38e-6},{"s":"A","x":2512,"y":1.38e-6},{"s":"A","x":2661,"y":1.38e-6},{"s":"A","x":2818,"y":1.38e-6},{"s":"A","x":2985,"y":1.38e-6},{"s":"A","x":3162,"y":1.38e-6},{"s":"A","x":3350,"y":1.38e-6},{"s":"A","x":3548,"y":1.38e-6},{"s":"A","x":3758,"y":1.38e-6},{"s":"A","x":3981,"y":1.38e-6},{"s":"A","x":4217,"y":1.38e-6},{"s":"A","x":4467,"y":1.38e-6},{"s":"A","x":4732,"y":1.38e-6},{"s":"A","x":5012,"y":1.38e-6},{"s":"A","x":5309,"y":1.38e-6},{"s":"A","x":5623,"y":1.38e-6},{"s":"A","x":5957,"y":1.38e-6},{"s":"A","x":6310,"y":1.38e-6},{"s":"A","x":6683,"y":1.38e-6},{"s":"A","x":7079,"y":1.38e-6},{"s":"A","x":7499,"y":1.38e-6},{"s":"A","x":7943,"y":1.38e-6},{"s":"A","x":8414,"y":1.38e-6},{"s":"A","x":8913,"y":1.38e-6},{"s":"A","x":9441,"y":1.38e-6},{"s":"A","x":10000,"y":1.38e-6},{"s":"A","x":10593,"y":1.38e-6},{"s":"A","x":11220,"y":1.38e-6},{"s":"A","x":11885,"y":1.38e-6},{"s":"A","x":12589,"y":1.38e-6},{"s":"A","x":13335,"y":1.38e-6},{"s":"A","x":14125,"y":1.38e-6},{"s":"A","x":14962,"y":1.38e-6},{"s":"A","x":15849,"y":1.38e-6},{"s":"A","x":16788,"y":1.38e-6},{"s":"A","x":17783,"y":1.38e-6},{"s":"A","x":18836,"y":1.38e-6},{"s":"A","x":19953,"y":1.38e-6},{"s":"A","x":21135,"y":1.38e-6},{"s":"A","x":22387,"y":1.38e-6},{"s":"A","x":23714,"y":1.38e-6},{"s":"A","x":25119,"y":1.38e-6},{"s":"A","x":26607,"y":1.38e-6},{"s":"A","x":28184,"y":1.38e-6},{"s":"A","x":29854,"y":1.38e-6},{"s":"A","x":31623,"y":1.38e-6},{"s":"A","x":33497,"y":1.38e-6},{"s":"A","x":35481,"y":1.38e-6},{"s":"A","x":37584,"y":1.38e-6},{"s":"A","x":39811,"y":1.38e-6},{"s":"A","x":42170,"y":1.38e-6},{"s":"A","x":44668,"y":1.38e-6},{"s":"A","x":47315,"y":1.38e-6},{"s":"A","x":50119,"y":1.38e-6},{"s":"A","x":53088,"y":1.38e-6},{"s":"A","x":56234,"y":1.38e-6},{"s":"A","x":59566,"y":1.38e-6},{"s":"A","x":63096,"y":1.38e-6},{"s":"A","x":66834,"y":1.38e-6},{"s":"A","x":70795,"y":1.38e-6},{"s":"A","x":74989,"y":1.38e-6},{"s":"A","x":79433,"y":1.38e-6},{"s":"A","x":84140,"y":1.38e-6},{"s":"A","x":89125,"y":1.38e-6},{"s":"A","x":96000,"y":1.38e-6},{"s":"A","x":107000,"y":1.38e-6},{"s":"A","x":118000,"y":1.38e-6},{"s":"A","x":236000,"y":1.38e-6},
{"s":"U","x":1,"y":70.6},{"s":"U","x":2,"y":18.2},{"s":"U","x":3,"y":4.1},{"s":"U","x":4,"y":1.85},{"s":"U","x":5,"y":0.99},{"s":"U","x":6,"y":0.64},{"s":"U","x":7,"y":0.46},{"s":"U","x":8,"y":0.347},{"s":"U","x":9,"y":0.27},{"s":"U","x":10,"y":0.22},{"s":"U","x":11,"y":0.18},{"s":"U","x":12,"y":0.155},{"s":"U","x":13,"y":0.135},{"s":"U","x":14,"y":0.118},{"s":"U","x":15,"y":0.104},{"s":"U","x":16,"y":0.093},{"s":"U","x":17,"y":0.083},{"s":"U","x":18,"y":0.075},{"s":"U","x":19,"y":0.068},{"s":"U","x":20,"y":0.062},{"s":"U","x":22,"y":0.052},{"s":"U","x":24,"y":0.044},{"s":"U","x":26,"y":0.038},{"s":"U","x":28,"y":0.033},
{"s":"U","x":30,"y":0.0295},{"s":"U","x":33,"y":0.025},{"s":"U","x":36,"y":0.0215},{"s":"U","x":40,"y":0.0178},{"s":"U","x":44,"y":0.0151},{"s":"U","x":48,"y":0.013},{"s":"U","x":52,"y":0.0112},{"s":"U","x":58,"y":0.0093},{"s":"U","x":63,"y":0.008},{"s":"U","x":69,"y":0.0068},{"s":"U","x":76,"y":0.0058},{"s":"U","x":83,"y":0.0049},{"s":"U","x":91,"y":0.0042},{"s":"U","x":100,"y":0.0036},{"s":"U","x":110,"y":0.00308},{"s":"U","x":120,"y":0.00263},{"s":"U","x":132,"y":0.00225},{"s":"U","x":145,"y":0.00192},{"s":"U","x":158,"y":0.00164},{"s":"U","x":174,"y":0.0014},{"s":"U","x":191,"y":0.0012},{"s":"U","x":209,"y":0.00102},{"s":"U","x":229,"y":0.00088},{"s":"U","x":251,"y":0.00075},{"s":"U","x":275,"y":0.00064},{"s":"U","x":302,"y":0.00055},{"s":"U","x":331,"y":0.00047},{"s":"U","x":363,"y":0.0004},{"s":"U","x":398,"y":0.00034},{"s":"U","x":437,"y":0.00029},{"s":"U","x":479,"y":0.00025},{"s":"U","x":525,"y":0.00021},{"s":"U","x":575,"y":0.00018},{"s":"U","x":631,"y":0.000156},{"s":"U","x":692,"y":0.000133},{"s":"U","x":759,"y":0.000114},{"s":"U","x":832,"y":0.000097},
{"s":"U","x":100,"y":0.0043},{"s":"U","x":110,"y":0.0037},{"s":"U","x":120,"y":0.00316},{"s":"U","x":132,"y":0.0027},{"s":"U","x":145,"y":0.0023},{"s":"U","x":158,"y":0.00197},{"s":"U","x":174,"y":0.00168},{"s":"U","x":191,"y":0.00144},{"s":"U","x":209,"y":0.00122},{"s":"U","x":229,"y":0.00106},
{"s":"U","x":100,"y":0.003},{"s":"U","x":110,"y":0.00256},{"s":"U","x":120,"y":0.00218},{"s":"U","x":132,"y":0.00187},{"s":"U","x":145,"y":0.0016},{"s":"U","x":158,"y":0.00136},{"s":"U","x":174,"y":0.00116},{"s":"U","x":191,"y":0.001},{"s":"U","x":209,"y":0.00085},{"s":"U","x":229,"y":0.00073},
{"s":"U","x":251,"y":0.00094},{"s":"U","x":275,"y":0.0008},{"s":"U","x":302,"y":0.00069},{"s":"U","x":331,"y":0.00059},{"s":"U","x":363,"y":0.0005},{"s":"U","x":398,"y":0.00043},{"s":"U","x":437,"y":0.00036},{"s":"U","x":479,"y":0.00031},{"s":"U","x":525,"y":0.00026},{"s":"U","x":575,"y":0.000225},{"s":"U","x":631,"y":0.00022},{"s":"U","x":692,"y":0.000186},{"s":"U","x":759,"y":0.00016},{"s":"U","x":832,"y":0.000136},
{"s":"U","x":251,"y":0.0006},{"s":"U","x":275,"y":0.00051},{"s":"U","x":302,"y":0.00044},{"s":"U","x":331,"y":0.00038},{"s":"U","x":363,"y":0.00032},{"s":"U","x":398,"y":0.00027},{"s":"U","x":437,"y":0.00023},{"s":"U","x":479,"y":0.0002},{"s":"U","x":525,"y":0.00017},{"s":"U","x":575,"y":0.000144},{"s":"U","x":631,"y":0.00011},{"s":"U","x":692,"y":0.000093},{"s":"U","x":759,"y":0.00008},{"s":"U","x":832,"y":0.000068},
{"s":"U","x":891,"y":1.66e-4},{"s":"U","x":891,"y":1.41e-4},{"s":"U","x":891,"y":1.2e-4},{"s":"U","x":891,"y":1.02e-4},{"s":"U","x":891,"y":8.71e-5},{"s":"U","x":891,"y":7.41e-5},{"s":"U","x":891,"y":6.31e-5},
{"s":"U","x":944,"y":1.3e-4},{"s":"U","x":944,"y":1.11e-4},{"s":"U","x":944,"y":9.44e-5},{"s":"U","x":944,"y":8.04e-5},{"s":"U","x":944,"y":6.84e-5},{"s":"U","x":944,"y":5.82e-5},
{"s":"U","x":1000,"y":1.2e-4},{"s":"U","x":1000,"y":1.02e-4},{"s":"U","x":1000,"y":8.71e-5},{"s":"U","x":1000,"y":7.41e-5},{"s":"U","x":1000,"y":6.31e-5},{"s":"U","x":1000,"y":5.37e-5},
{"s":"U","x":1059,"y":1.11e-4},{"s":"U","x":1059,"y":9.44e-5},{"s":"U","x":1059,"y":8.04e-5},{"s":"U","x":1059,"y":6.84e-5},{"s":"U","x":1059,"y":5.82e-5},{"s":"U","x":1059,"y":4.95e-5},{"s":"U","x":1059,"y":4.22e-5},{"s":"U","x":1059,"y":3.59e-5},
{"s":"U","x":1122,"y":8.71e-5},{"s":"U","x":1122,"y":7.41e-5},{"s":"U","x":1122,"y":6.31e-5},{"s":"U","x":1122,"y":5.37e-5},{"s":"U","x":1122,"y":4.57e-5},{"s":"U","x":1122,"y":3.89e-5},{"s":"U","x":1122,"y":3.31e-5},{"s":"U","x":1122,"y":2.82e-5},{"s":"U","x":1122,"y":2.4e-5},{"s":"U","x":1122,"y":2.04e-5},
{"s":"U","x":1189,"y":6.84e-5},{"s":"U","x":1189,"y":5.82e-5},{"s":"U","x":1189,"y":4.95e-5},{"s":"U","x":1189,"y":4.22e-5},{"s":"U","x":1189,"y":3.59e-5},{"s":"U","x":1189,"y":3.05e-5},{"s":"U","x":1189,"y":2.6e-5},{"s":"U","x":1189,"y":2.21e-5},{"s":"U","x":1189,"y":1.88e-5},{"s":"U","x":1189,"y":1.6e-5},{"s":"U","x":1189,"y":1.36e-5},
{"s":"U","x":1259,"y":6.31e-5},{"s":"U","x":1259,"y":5.37e-5},{"s":"U","x":1259,"y":4.57e-5},{"s":"U","x":1259,"y":3.89e-5},{"s":"U","x":1259,"y":3.31e-5},{"s":"U","x":1259,"y":2.82e-5},{"s":"U","x":1259,"y":2.4e-5},{"s":"U","x":1259,"y":2.04e-5},{"s":"U","x":1259,"y":1.74e-5},{"s":"U","x":1259,"y":1.48e-5},{"s":"U","x":1259,"y":1.26e-5},
{"s":"U","x":1334,"y":5.82e-5},{"s":"U","x":1334,"y":4.95e-5},{"s":"U","x":1334,"y":4.22e-5},{"s":"U","x":1334,"y":3.59e-5},{"s":"U","x":1334,"y":3.05e-5},{"s":"U","x":1334,"y":2.6e-5},{"s":"U","x":1334,"y":2.21e-5},{"s":"U","x":1334,"y":1.88e-5},{"s":"U","x":1334,"y":1.6e-5},{"s":"U","x":1334,"y":1.36e-5},
{"s":"U","x":1413,"y":5.37e-5},{"s":"U","x":1413,"y":4.57e-5},{"s":"U","x":1413,"y":3.89e-5},{"s":"U","x":1413,"y":3.31e-5},{"s":"U","x":1413,"y":2.82e-5},{"s":"U","x":1413,"y":2.4e-5},{"s":"U","x":1413,"y":2.04e-5},{"s":"U","x":1413,"y":1.74e-5},{"s":"U","x":1413,"y":1.48e-5},{"s":"U","x":1413,"y":1.26e-5},
{"s":"U","x":1496,"y":4.95e-5},{"s":"U","x":1496,"y":4.22e-5},{"s":"U","x":1496,"y":3.59e-5},{"s":"U","x":1496,"y":3.05e-5},{"s":"U","x":1496,"y":2.6e-5},{"s":"U","x":1496,"y":2.21e-5},{"s":"U","x":1496,"y":1.88e-5},{"s":"U","x":1496,"y":1.6e-5},{"s":"U","x":1496,"y":1.36e-5},
{"s":"U","x":1585,"y":3.89e-5},{"s":"U","x":1585,"y":3.31e-5},{"s":"U","x":1585,"y":2.82e-5},{"s":"U","x":1585,"y":2.4e-5},{"s":"U","x":1585,"y":2.04e-5},{"s":"U","x":1585,"y":1.74e-5},{"s":"U","x":1585,"y":1.48e-5},{"s":"U","x":1585,"y":1.26e-5},
{"s":"U","x":1679,"y":3.59e-5},{"s":"U","x":1679,"y":3.05e-5},{"s":"U","x":1679,"y":2.6e-5},{"s":"U","x":1679,"y":2.21e-5},{"s":"U","x":1679,"y":1.88e-5},{"s":"U","x":1679,"y":1.6e-5},{"s":"U","x":1679,"y":1.36e-5},
{"s":"U","x":1778,"y":3.31e-5},{"s":"U","x":1778,"y":2.82e-5},{"s":"U","x":1778,"y":2.4e-5},{"s":"U","x":1778,"y":2.04e-5},{"s":"U","x":1778,"y":1.74e-5},{"s":"U","x":1778,"y":1.48e-5},{"s":"U","x":1778,"y":1.26e-5},
{"s":"U","x":1884,"y":3.05e-5},{"s":"U","x":1884,"y":2.6e-5},{"s":"U","x":1884,"y":2.21e-5},{"s":"U","x":1884,"y":1.88e-5},{"s":"U","x":1884,"y":1.6e-5},{"s":"U","x":1884,"y":1.36e-5},
{"s":"U","x":1995,"y":3.31e-5},{"s":"U","x":1995,"y":2.82e-5},{"s":"U","x":1995,"y":2.4e-5},{"s":"U","x":1995,"y":2.04e-5},{"s":"U","x":1995,"y":1.74e-5},{"s":"U","x":1995,"y":1.48e-5},{"s":"U","x":1995,"y":1.26e-5},
{"s":"U","x":2113,"y":2.6e-5},{"s":"U","x":2113,"y":2.21e-5},{"s":"U","x":2113,"y":1.88e-5},{"s":"U","x":2113,"y":1.6e-5},{"s":"U","x":2113,"y":1.36e-5},
{"s":"U","x":2239,"y":2.4e-5},{"s":"U","x":2239,"y":2.04e-5},{"s":"U","x":2239,"y":1.74e-5},{"s":"U","x":2239,"y":1.48e-5},{"s":"U","x":2239,"y":1.26e-5},
{"s":"U","x":2371,"y":2.21e-5},{"s":"U","x":2371,"y":1.88e-5},{"s":"U","x":2371,"y":1.6e-5},{"s":"U","x":2371,"y":1.36e-5},
{"s":"U","x":2512,"y":2.04e-5},{"s":"U","x":2512,"y":1.74e-5},{"s":"U","x":2512,"y":1.48e-5},{"s":"U","x":2512,"y":1.26e-5},
{"s":"U","x":2661,"y":1.88e-5},{"s":"U","x":2661,"y":1.6e-5},{"s":"U","x":2661,"y":1.36e-5},
{"s":"U","x":2818,"y":1.74e-5},{"s":"U","x":2818,"y":1.48e-5},{"s":"U","x":2818,"y":1.26e-5},
{"s":"U","x":2985,"y":1.6e-5},{"s":"U","x":2985,"y":1.36e-5},{"s":"U","x":3162,"y":1.48e-5},{"s":"U","x":3162,"y":1.26e-5},{"s":"U","x":3350,"y":1.36e-5},{"s":"U","x":3548,"y":1.48e-5},{"s":"U","x":3548,"y":1.26e-5},{"s":"U","x":3758,"y":1.36e-5},{"s":"U","x":3981,"y":1.26e-5},
{"s":"U","x":5940,"y":1.61e-5},
{"s":"U","x":1202,"y":1.15e-5},{"s":"U","x":1318,"y":1.15e-5},{"s":"U","x":1445,"y":1.15e-5},{"s":"U","x":1585,"y":1.15e-5},{"s":"U","x":1738,"y":1.15e-5},{"s":"U","x":1905,"y":1.15e-5},{"s":"U","x":2089,"y":1.15e-5},{"s":"U","x":2291,"y":1.15e-5},{"s":"U","x":2512,"y":1.15e-5},{"s":"U","x":2754,"y":1.15e-5},{"s":"U","x":3020,"y":1.15e-5},{"s":"U","x":3311,"y":1.15e-5},{"s":"U","x":3631,"y":1.15e-5},{"s":"U","x":3981,"y":1.15e-5},{"s":"U","x":4365,"y":1.15e-5},
{"s":"U","x":1318,"y":9.2e-6},{"s":"U","x":1445,"y":9.2e-6},{"s":"U","x":1585,"y":9.2e-6},{"s":"U","x":1738,"y":9.2e-6},{"s":"U","x":1905,"y":9.2e-6},{"s":"U","x":2089,"y":9.2e-6},{"s":"U","x":2291,"y":9.2e-6},{"s":"U","x":2512,"y":9.2e-6},{"s":"U","x":2754,"y":9.2e-6},{"s":"U","x":3020,"y":9.2e-6},{"s":"U","x":3311,"y":9.2e-6},{"s":"U","x":3631,"y":9.2e-6},{"s":"U","x":3981,"y":9.2e-6},{"s":"U","x":4365,"y":9.2e-6},{"s":"U","x":4786,"y":9.2e-6},{"s":"U","x":5248,"y":9.2e-6},{"s":"U","x":5754,"y":9.2e-6},
{"s":"U","x":1318,"y":6.9e-6},{"s":"U","x":1445,"y":6.9e-6},{"s":"U","x":1585,"y":6.9e-6},{"s":"U","x":1738,"y":6.9e-6},{"s":"U","x":1905,"y":6.9e-6},{"s":"U","x":2089,"y":6.9e-6},{"s":"U","x":2291,"y":6.9e-6},{"s":"U","x":2512,"y":6.9e-6},{"s":"U","x":2754,"y":6.9e-6},{"s":"U","x":3020,"y":6.9e-6},{"s":"U","x":3311,"y":6.9e-6},{"s":"U","x":3631,"y":6.9e-6},{"s":"U","x":3981,"y":6.9e-6},{"s":"U","x":4365,"y":6.9e-6},{"s":"U","x":4786,"y":6.9e-6},{"s":"U","x":5248,"y":6.9e-6},{"s":"U","x":5754,"y":6.9e-6},{"s":"U","x":6310,"y":6.9e-6},{"s":"U","x":6918,"y":6.9e-6},{"s":"U","x":8318,"y":6.9e-6},{"s":"U","x":10000,"y":6.9e-6},
{"s":"U","x":1334,"y":4.6e-6},{"s":"U","x":1413,"y":4.6e-6},{"s":"U","x":1496,"y":4.6e-6},{"s":"U","x":1585,"y":4.6e-6},{"s":"U","x":1679,"y":4.6e-6},{"s":"U","x":1778,"y":4.6e-6},{"s":"U","x":1884,"y":4.6e-6},{"s":"U","x":1995,"y":4.6e-6},{"s":"U","x":2113,"y":4.6e-6},{"s":"U","x":2239,"y":4.6e-6},{"s":"U","x":2371,"y":4.6e-6},{"s":"U","x":2512,"y":4.6e-6},{"s":"U","x":2661,"y":4.6e-6},{"s":"U","x":2818,"y":4.6e-6},{"s":"U","x":2985,"y":4.6e-6},{"s":"U","x":3162,"y":4.6e-6},{"s":"U","x":3350,"y":4.6e-6},{"s":"U","x":3548,"y":4.6e-6},{"s":"U","x":3758,"y":4.6e-6},{"s":"U","x":3981,"y":4.6e-6},{"s":"U","x":4217,"y":4.6e-6},{"s":"U","x":4467,"y":4.6e-6},{"s":"U","x":4732,"y":4.6e-6},{"s":"U","x":5012,"y":4.6e-6},{"s":"U","x":5309,"y":4.6e-6},{"s":"U","x":5623,"y":4.6e-6},{"s":"U","x":5957,"y":4.6e-6},{"s":"U","x":6310,"y":4.6e-6},{"s":"U","x":6683,"y":4.6e-6},{"s":"U","x":7079,"y":4.6e-6},{"s":"U","x":7499,"y":4.6e-6},{"s":"U","x":7943,"y":4.6e-6},{"s":"U","x":8414,"y":4.6e-6},{"s":"U","x":8913,"y":4.6e-6},{"s":"U","x":9441,"y":4.6e-6},{"s":"U","x":10000,"y":4.6e-6},{"s":"U","x":10593,"y":4.6e-6},{"s":"U","x":11220,"y":4.6e-6},{"s":"U","x":11885,"y":4.6e-6},{"s":"U","x":12589,"y":4.6e-6},{"s":"U","x":13335,"y":4.6e-6},{"s":"U","x":14125,"y":4.6e-6},
{"s":"U","x":1413,"y":2.3e-6},{"s":"U","x":1496,"y":2.3e-6},{"s":"U","x":1585,"y":2.3e-6},{"s":"U","x":1679,"y":2.3e-6},{"s":"U","x":1778,"y":2.3e-6},{"s":"U","x":1884,"y":2.3e-6},{"s":"U","x":1995,"y":2.3e-6},{"s":"U","x":2113,"y":2.3e-6},{"s":"U","x":2239,"y":2.3e-6},{"s":"U","x":2371,"y":2.3e-6},{"s":"U","x":2512,"y":2.3e-6},{"s":"U","x":2661,"y":2.3e-6},{"s":"U","x":2818,"y":2.3e-6},{"s":"U","x":2985,"y":2.3e-6},{"s":"U","x":3162,"y":2.3e-6},{"s":"U","x":3350,"y":2.3e-6},{"s":"U","x":3548,"y":2.3e-6},{"s":"U","x":3758,"y":2.3e-6},{"s":"U","x":3981,"y":2.3e-6},{"s":"U","x":4217,"y":2.3e-6},{"s":"U","x":4467,"y":2.3e-6},{"s":"U","x":4732,"y":2.3e-6},{"s":"U","x":5012,"y":2.3e-6},{"s":"U","x":5309,"y":2.3e-6},{"s":"U","x":5623,"y":2.3e-6},{"s":"U","x":5957,"y":2.3e-6},{"s":"U","x":6310,"y":2.3e-6},{"s":"U","x":6683,"y":2.3e-6},{"s":"U","x":7079,"y":2.3e-6},{"s":"U","x":7499,"y":2.3e-6},{"s":"U","x":7943,"y":2.3e-6},{"s":"U","x":8414,"y":2.3e-6},{"s":"U","x":8913,"y":2.3e-6},{"s":"U","x":9441,"y":2.3e-6},{"s":"U","x":10000,"y":2.3e-6},{"s":"U","x":10593,"y":2.3e-6},{"s":"U","x":11220,"y":2.3e-6},{"s":"U","x":11885,"y":2.3e-6},{"s":"U","x":12589,"y":2.3e-6},{"s":"U","x":13335,"y":2.3e-6},{"s":"U","x":14125,"y":2.3e-6},{"s":"U","x":14962,"y":2.3e-6},{"s":"U","x":15849,"y":2.3e-6},{"s":"U","x":16788,"y":2.3e-6},{"s":"U","x":17783,"y":2.3e-6},{"s":"U","x":18836,"y":2.3e-6},{"s":"U","x":19953,"y":2.3e-6},{"s":"U","x":21135,"y":2.3e-6},{"s":"U","x":22387,"y":2.3e-6},{"s":"U","x":23714,"y":2.3e-6},{"s":"U","x":25119,"y":2.3e-6},{"s":"U","x":26607,"y":2.3e-6},{"s":"U","x":28184,"y":2.3e-6},{"s":"U","x":29854,"y":2.3e-6},{"s":"U","x":31623,"y":2.3e-6},{"s":"U","x":33497,"y":2.3e-6},{"s":"U","x":35481,"y":2.3e-6},{"s":"U","x":37584,"y":2.3e-6},{"s":"U","x":39811,"y":2.3e-6},{"s":"U","x":42170,"y":2.3e-6},{"s":"U","x":44668,"y":2.3e-6},{"s":"U","x":47315,"y":2.3e-6},{"s":"U","x":50119,"y":2.3e-6},{"s":"U","x":53088,"y":2.3e-6},{"s":"U","x":56234,"y":2.3e-6},{"s":"U","x":59566,"y":2.3e-6},{"s":"U","x":63096,"y":2.3e-6},{"s":"U","x":133000,"y":2.3e-6}
]
},
"hconcat":[
{
"width":446,"height":350,
"data":{"name":"L"},
"title":{"text":"(a)  Shared songs","orient":"bottom","frame":"bounds","anchor":"middle","font":"Liberation Serif","fontSize":22,"fontWeight":"normal","color":"#000","offset":7},
"resolve":{"axis":{"x":"independent","y":"independent"}},
"layer":[
{"mark":{"type":"point","filled":false,"strokeWidth":1,"opacity":1},
"encoding":{
"x":{"field":"x","type":"quantitative","scale":{"type":"log","domain":[1,100000],"nice":false},"axis":{"orient":"bottom","values":[1,10,100,1000,10000,100000],"labelExpr":"'10'","ticks":false,"labelAlign":"center","labelBaseline":"alphabetic","labelPadding":21,"labelOffset":-2.5,"title":"Number of shared songs","titleY":40.3,"titleBaseline":"alphabetic"}},
"y":{"field":"y","type":"quantitative","scale":{"type":"log","domain":[0.00001,100],"nice":false},"axis":{"orient":"left","values":[0.00001,0.0001,0.001,0.01,0.1,1,10,100],"labelExpr":"'10'","ticks":false,"labelAlign":"left","labelBaseline":"alphabetic","labelPadding":31.6,"labelOffset":6,"title":"Percent of users","titleX":-40,"titleBaseline":"alphabetic"}},
"color":{"field":"s","type":"nominal","scale":{"domain":["A","U"],"range":["#0000ff","#ff0000"]},"legend":{"labelExpr":"datum.label == 'A' ? 'All users' : 'USA users'"}},
"shape":{"field":"s","type":"nominal","scale":{"domain":["A","U"],"range":["M-1,-1L1,1M-1,1L1,-1","circle"]},"legend":{"labelExpr":"datum.label == 'A' ? 'All users' : 'USA users'"}},
"size":{"field":"s","type":"nominal","scale":{"domain":["A","U"],"range":[11,20]},"legend":{"labelExpr":"datum.label == 'A' ? 'All users' : 'USA users'"}}
}},
{"transform":[{"filter":"datum.x == 1 && datum.s == 'A'"}],"mark":{"type":"point","opacity":0},
"encoding":{
"x":{"field":"x","type":"quantitative","scale":{"type":"log","domain":[1,100000],"nice":false},"axis":{"orient":"bottom","values":[1,10,100,1000,10000,100000],"labelExpr":"(datum.value < 0.5 ? '−' : '') + abs(round(log(datum.value)/LN10))","ticks":false,"labelFontSize":11.5,"labelAlign":"left","labelBaseline":"alphabetic","labelPadding":14.5,"labelOffset":5,"title":null}},
"y":{"field":"y","type":"quantitative","scale":{"type":"log","domain":[0.00001,100],"nice":false},"axis":{"orient":"left","values":[0.00001,0.0001,0.001,0.01,0.1,1,10,100],"labelExpr":"(datum.value < 0.5 ? '−' : '') + abs(round(log(datum.value)/LN10))","ticks":false,"labelFontSize":11.5,"labelAlign":"left","labelBaseline":"alphabetic","labelPadding":15.5,"labelOffset":-1.5,"title":null}}
}},
{"transform":[{"filter":"datum.x == 1 && datum.s == 'A'"}],"mark":{"type":"point","opacity":0},
"encoding":{
"x":{"field":"x","type":"quantitative","scale":{"type":"log","domain":[1,100000],"nice":false},"axis":{"orient":"bottom","values":[1,10,100,1000,10000,100000],"labels":false,"tickSize":-4,"title":null}},
"y":{"field":"y","type":"quantitative","scale":{"type":"log","domain":[0.00001,100],"nice":false},"axis":{"orient":"left","values":[0.00001,0.0001,0.001,0.01,0.1,1,10,100],"labels":false,"tickSize":-4,"title":null}}
}},
{"transform":[{"filter":"datum.x == 1 && datum.s == 'A'"}],"mark":{"type":"point","opacity":0},
"encoding":{
"x":{"field":"x","type":"quantitative","scale":{"type":"log","domain":[1,100000],"nice":false},"axis":{"orient":"bottom","values":[2,3,4,5,6,7,8,9,20,30,40,50,60,70,80,90,200,300,400,500,600,700,800,900,2000,3000,4000,5000,6000,7000,8000,9000,20000,30000,40000,50000,60000,70000,80000,90000],"labels":false,"tickSize":-2,"title":null}},
"y":{"field":"y","type":"quantitative","scale":{"type":"log","domain":[0.00001,100],"nice":false},"axis":{"orient":"left","values":[0.00002,0.00003,0.00004,0.00005,0.00006,0.00007,0.00008,0.00009,0.0002,0.0003,0.0004,0.0005,0.0006,0.0007,0.0008,0.0009,0.002,0.003,0.004,0.005,0.006,0.007,0.008,0.009,0.02,0.03,0.04,0.05,0.06,0.07,0.08,0.09,0.2,0.3,0.4,0.5,0.6,0.7,0.8,0.9,2,3,4,5,6,7,8,9,20,30,40,50,60,70,80,90],"labels":false,"tickSize":-2,"title":null}}
}},
{"transform":[{"filter":"datum.x == 1 && datum.s == 'A'"}],"mark":{"type":"point","opacity":0},
"encoding":{
"x":{"field":"x","type":"quantitative","scale":{"type":"log","domain":[1,100000],"nice":false},"axis":{"orient":"top","values":[1,10,100,1000,10000,100000],"labels":false,"tickSize":-4,"title":null}},
"y":{"field":"y","type":"quantitative","scale":{"type":"log","domain":[0.00001,100],"nice":false},"axis":{"orient":"right","values":[0.00001,0.0001,0.001,0.01,0.1,1,10,100],"labels":false,"tickSize":-4,"title":null}}
}},
{"transform":[{"filter":"datum.x == 1 && datum.s == 'A'"}],"mark":{"type":"point","opacity":0},
"encoding":{
"x":{"field":"x","type":"quantitative","scale":{"type":"log","domain":[1,100000],"nice":false},"axis":{"orient":"top","values":[2,3,4,5,6,7,8,9,20,30,40,50,60,70,80,90,200,300,400,500,600,700,800,900,2000,3000,4000,5000,6000,7000,8000,9000,20000,30000,40000,50000,60000,70000,80000,90000],"labels":false,"tickSize":-2,"title":null}},
"y":{"field":"y","type":"quantitative","scale":{"type":"log","domain":[0.00001,100],"nice":false},"axis":{"orient":"right","values":[0.00002,0.00003,0.00004,0.00005,0.00006,0.00007,0.00008,0.00009,0.0002,0.0003,0.0004,0.0005,0.0006,0.0007,0.0008,0.0009,0.002,0.003,0.004,0.005,0.006,0.007,0.008,0.009,0.02,0.03,0.04,0.05,0.06,0.07,0.08,0.09,0.2,0.3,0.4,0.5,0.6,0.7,0.8,0.9,2,3,4,5,6,7,8,9,20,30,40,50,60,70,80,90],"labels":false,"tickSize":-2,"title":null}}
}}
]
},
{
"width":445,"height":350,
"data":{"name":"R"},
"title":{"text":"(b)  Song popularity","orient":"bottom","frame":"bounds","anchor":"middle","font":"Liberation Serif","fontSize":22,"fontWeight":"normal","color":"#000","offset":7},
"resolve":{"axis":{"x":"independent","y":"independent"}},
"layer":[
{"mark":{"type":"point","filled":false,"strokeWidth":1,"opacity":1},
"encoding":{
"x":{"field":"x","type":"quantitative","scale":{"type":"log","domain":[1,1000000],"nice":false},"axis":{"orient":"bottom","values":[1,100,10000,1000000],"labelExpr":"'10'","ticks":false,"labelAlign":"center","labelBaseline":"alphabetic","labelPadding":21,"labelOffset":-2.5,"title":"Number of sharing users","titleY":40.3,"titleBaseline":"alphabetic"}},
"y":{"field":"y","type":"quantitative","scale":{"type":"log","domain":[0.000001,100],"nice":false},"axis":{"orient":"left","values":[0.000001,0.0001,0.01,1,100],"labelExpr":"'10'","ticks":false,"labelAlign":"left","labelBaseline":"alphabetic","labelPadding":31.6,"labelOffset":6,"title":"Percent of songs","titleX":-41.5,"titleBaseline":"alphabetic"}},
"color":{"field":"s","type":"nominal","scale":{"domain":["A","U"],"range":["#0000ff","#ff0000"]},"legend":{"labelExpr":"datum.label == 'A' ? 'All users' : 'USA users'"}},
"shape":{"field":"s","type":"nominal","scale":{"domain":["A","U"],"range":["M-1,-1L1,1M-1,1L1,-1","circle"]},"legend":{"labelExpr":"datum.label == 'A' ? 'All users' : 'USA users'"}},
"size":{"field":"s","type":"nominal","scale":{"domain":["A","U"],"range":[11,20]},"legend":{"labelExpr":"datum.label == 'A' ? 'All users' : 'USA users'"}}
}},
{"transform":[{"filter":"datum.x == 1 && datum.s == 'A'"}],"mark":{"type":"point","opacity":0},
"encoding":{
"x":{"field":"x","type":"quantitative","scale":{"type":"log","domain":[1,1000000],"nice":false},"axis":{"orient":"bottom","values":[1,100,10000,1000000],"labelExpr":"(datum.value < 0.5 ? '−' : '') + abs(round(log(datum.value)/LN10))","ticks":false,"labelFontSize":11.5,"labelAlign":"left","labelBaseline":"alphabetic","labelPadding":14.5,"labelOffset":5,"title":null}},
"y":{"field":"y","type":"quantitative","scale":{"type":"log","domain":[0.000001,100],"nice":false},"axis":{"orient":"left","values":[0.000001,0.0001,0.01,1,100],"labelExpr":"(datum.value < 0.5 ? '−' : '') + abs(round(log(datum.value)/LN10))","ticks":false,"labelFontSize":11.5,"labelAlign":"left","labelBaseline":"alphabetic","labelPadding":15.5,"labelOffset":-1.5,"title":null}}
}},
{"transform":[{"filter":"datum.x == 1 && datum.s == 'A'"}],"mark":{"type":"point","opacity":0},
"encoding":{
"x":{"field":"x","type":"quantitative","scale":{"type":"log","domain":[1,1000000],"nice":false},"axis":{"orient":"bottom","values":[1,10,100,1000,10000,100000,1000000],"labels":false,"tickSize":-5,"title":null}},
"y":{"field":"y","type":"quantitative","scale":{"type":"log","domain":[0.000001,100],"nice":false},"axis":{"orient":"left","values":[0.000001,0.00001,0.0001,0.001,0.01,0.1,1,10,100],"labels":false,"tickSize":-5,"title":null}}
}},
{"transform":[{"filter":"datum.x == 1 && datum.s == 'A'"}],"mark":{"type":"point","opacity":0},
"encoding":{
"x":{"field":"x","type":"quantitative","scale":{"type":"log","domain":[1,1000000],"nice":false},"axis":{"orient":"top","values":[1,10,100,1000,10000,100000,1000000],"labels":false,"tickSize":-5,"title":null}},
"y":{"field":"y","type":"quantitative","scale":{"type":"log","domain":[0.000001,100],"nice":false},"axis":{"orient":"right","values":[0.000001,0.00001,0.0001,0.001,0.01,0.1,1,10,100],"labels":false,"tickSize":-5,"title":null}}
}}
]
}
]
}
